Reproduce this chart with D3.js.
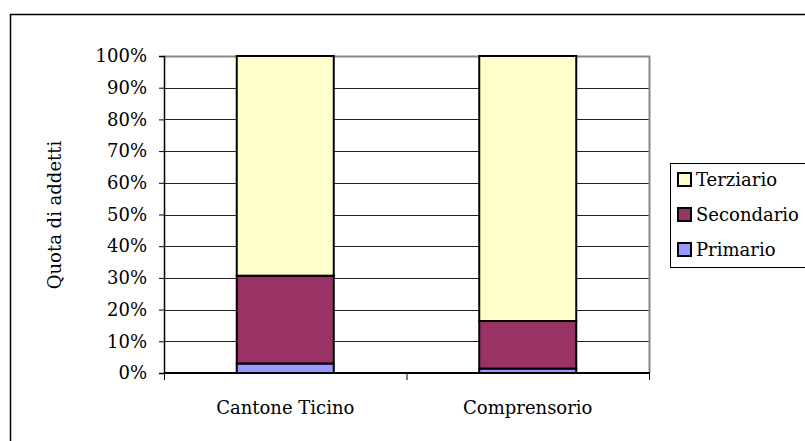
<!DOCTYPE html>
<html>
<head>
<meta charset="utf-8">
<script src="https://cdn.jsdelivr.net/npm/d3@7"></script>
<style>
  html, body { margin: 0; padding: 0; background: #fff; }
  svg { display: block; }
  text { font-family: "DejaVu Serif", "Liberation Serif", serif; fill: #000; }
</style>
</head>
<body>
<svg id="chart" width="805" height="441"></svg>
<script>
// Employment share by sector (percent of workers)
const categories = ["Cantone Ticino", "Comprensorio"];
const sectors = ["Primario", "Secondario", "Terziario"];
const primario = [3.0, 1.4];
const secondario = [27.7, 15.0];
const terziario = [69.3, 83.6];
const yTicks = [0, 10, 20, 30, 40, 50, 60, 70, 80, 90, 100];
const colors = { Primario: "#9999FF", Secondario: "#993366", Terziario: "#FFFFCC" };
const yTitle = "Quota di addetti";

const rows = categories.map((c, i) => ({
  category: c,
  Primario: primario[i],
  Secondario: secondario[i],
  Terziario: terziario[i]
}));

const svg = d3.select("#chart");
const fontSize = 18;

// Outer chart frame
svg.append("rect")
  .attr("x", 10.5).attr("y", 14.5)
  .attr("width", 820).attr("height", 460)
  .attr("fill", "#fff").attr("stroke", "#000").attr("stroke-width", 1.5);

const plot = { left: 164, right: 649, top: 56, bottom: 373 };

const x = d3.scaleBand().domain(categories)
  .range([plot.left, plot.right]).paddingInner(0.6).paddingOuter(0.3);
const y = d3.scaleLinear().domain([0, 100]).range([plot.bottom, plot.top]);

// Gridlines
svg.append("g").selectAll("line").data(yTicks.filter(t => t > 0 && t < 100)).join("line")
  .attr("x1", plot.left).attr("x2", plot.right)
  .attr("y1", d => Math.round(y(d)) + 0.5).attr("y2", d => Math.round(y(d)) + 0.5)
  .attr("stroke", "#222").attr("stroke-width", 1);

// Plot-area border (top and right)
svg.append("path")
  .attr("d", `M${plot.left},${plot.top + 0.5}H${plot.right + 0.5}V${plot.bottom}`)
  .attr("fill", "none").attr("stroke", "#888").attr("stroke-width", 2);

// Stacked bars
const stack = d3.stack().keys(sectors)(rows);
svg.append("g").selectAll("g").data(stack).join("g")
  .attr("fill", d => colors[d.key])
  .selectAll("rect").data(d => d).join("rect")
  .attr("x", d => x(d.data.category))
  .attr("width", x.bandwidth())
  .attr("y", d => y(d[1]))
  .attr("height", d => y(d[0]) - y(d[1]))
  .attr("stroke", "#000").attr("stroke-width", 2);

// Y axis
const yAxis = d3.axisLeft(y).tickValues(yTicks).tickFormat(d => d + "%")
  .tickSize(5).tickPadding(12);
const gy = svg.append("g").attr("transform", `translate(${plot.left},0)`).call(yAxis);
gy.select(".domain").attr("stroke", "#000").attr("stroke-width", 1.5);
gy.selectAll(".tick line").attr("stroke", "#000");
gy.selectAll("text").style("font-size", fontSize + "px")
  .style("font-family", '"DejaVu Serif", serif');

// X axis with ticks at category boundaries
const gx = svg.append("g").attr("transform", `translate(0,${plot.bottom})`);
gx.append("line").attr("x1", plot.left).attr("x2", plot.right + 1)
  .attr("stroke", "#000").attr("stroke-width", 2);
const boundaries = [plot.left, (plot.left + plot.right) / 2, plot.right];
gx.selectAll("line.tk").data(boundaries).join("line").attr("class", "tk")
  .attr("x1", d => d + 0.5).attr("x2", d => d + 0.5)
  .attr("y1", 0).attr("y2", 7).attr("stroke", "#000");
gx.selectAll("text").data(categories).join("text")
  .attr("x", d => x(d) + x.bandwidth() / 2)
  .attr("y", 41)
  .attr("text-anchor", "middle")
  .style("font-size", fontSize + "px")
  .text(d => d);

// Y axis title
svg.append("text")
  .attr("transform", `translate(61,215) rotate(-90)`)
  .attr("text-anchor", "middle")
  .style("font-size", fontSize + "px")
  .text(yTitle);

// Legend
const legend = svg.append("g");
legend.append("rect")
  .attr("x", 670.5).attr("y", 163.5).attr("width", 160).attr("height", 104)
  .attr("fill", "#fff").attr("stroke", "#000").attr("stroke-width", 1);
const legendOrder = ["Terziario", "Secondario", "Primario"];
const items = legend.selectAll("g.item").data(legendOrder).join("g")
  .attr("class", "item")
  .attr("transform", (d, i) => `translate(678,${186 + i * 35})`);
items.append("rect")
  .attr("y", -13)
  .attr("width", 13).attr("height", 13)
  .attr("fill", d => colors[d]).attr("stroke", "#000").attr("stroke-width", 2);
items.append("text")
  .attr("x", 18).attr("y", 0)
  .style("font-size", fontSize + "px")
  .text(d => d);
</script>
</body>
</html>
